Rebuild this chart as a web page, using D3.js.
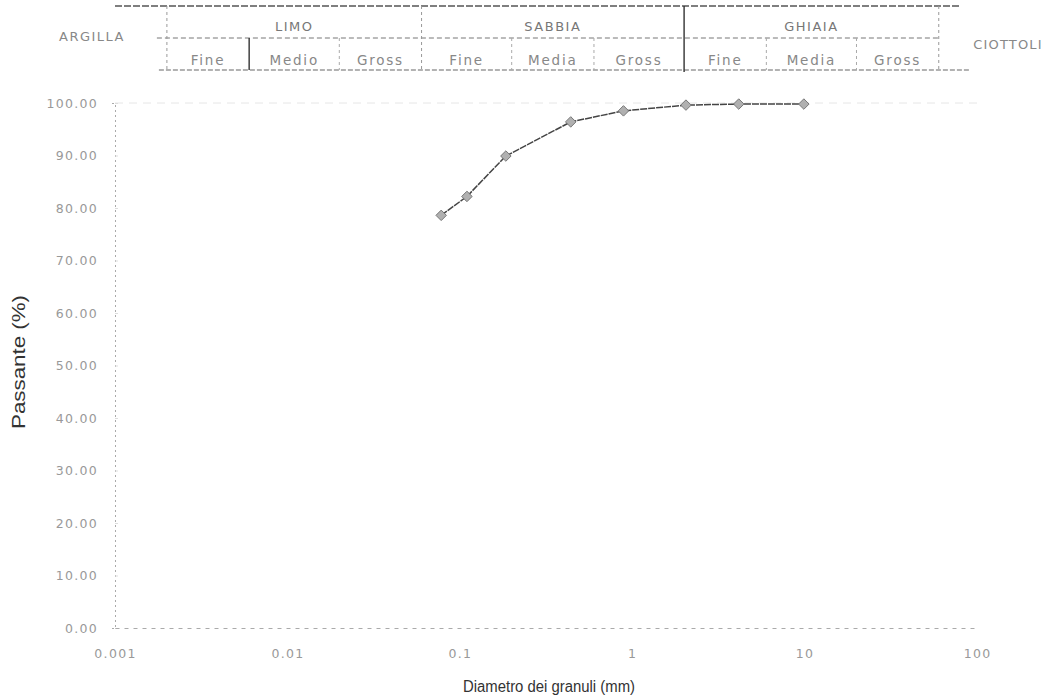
<!DOCTYPE html>
<html><head><meta charset="utf-8">
<script src="https://cdn.jsdelivr.net/npm/d3@7"></script>
<style>
html,body{margin:0;padding:0;background:#fff;}
svg{display:block;font-family:"Liberation Sans",Arial,sans-serif;}
</style></head>
<body>
<svg id="chart" width="1061" height="699"></svg>
<script>
// ---- data ----
const diameters = [0.078, 0.11, 0.185, 0.44, 0.89, 2.05, 4.15, 9.9];
const passing   = [78.6, 82.2, 89.9, 96.4, 98.5, 99.6, 99.8, 99.8];
const xTicks = [0.001, 0.01, 0.1, 1, 10, 100];
const xTickLabels = ["0.001", "0.01", "0.1", "1", "10", "100"];
const yTicks = [0, 10, 20, 30, 40, 50, 60, 70, 80, 90, 100];
const classNames = ["LIMO", "SABBIA", "GHIAIA"];
const classBounds = [[0.002, 0.06], [0.06, 2], [2, 60]];
const subNames = ["Fine", "Medio", "Gross", "Fine", "Media", "Gross", "Fine", "Media", "Gross"];
const subBounds = [0.002, 0.006, 0.02, 0.06, 0.2, 0.6, 2, 6, 20, 60];
const outerLeft = "ARGILLA";
const outerRight = "CIOTTOLI";
const xTitle = "Diametro dei granuli (mm)";
const yTitle = "Passante (%)";

// ---- layout ----
const svg = d3.select("#chart");
const L = 115, R = 977, T = 103, B = 628;
const x = d3.scaleLog().domain([0.001, 100]).range([L, R]);
const y = d3.scaleLinear().domain([0, 100]).range([B, T]);
const gmid = (a, b) => x(Math.sqrt(a * b));
const hdrFont = "DejaVu Sans, Verdana, sans-serif";

// header table
const hTop = 6, hMid = 38, hBot = 70;
const hdr = svg.append("g");
hdr.append("line").attr("x1", L).attr("x2", x(60) + 22).attr("y1", hTop).attr("y2", hTop)
  .attr("stroke", "#555").attr("stroke-width", 1.3).attr("stroke-dasharray", "7,2");
hdr.append("line").attr("x1", x(0.002) - 10).attr("x2", x(60)).attr("y1", hMid).attr("y2", hMid)
  .attr("stroke", "#777").attr("stroke-width", 1).attr("stroke-dasharray", "5,3");
hdr.append("line").attr("x1", x(0.002) - 8).attr("x2", x(60) + 32).attr("y1", hBot).attr("y2", hBot)
  .attr("stroke", "#666").attr("stroke-width", 1.1).attr("stroke-dasharray", "5,2");
const majorB = [0.002, 0.06, 2, 60];
hdr.selectAll("line.maj").data(majorB).join("line").attr("class", "maj")
  .attr("x1", d => x(d)).attr("x2", d => x(d)).attr("y1", hTop).attr("y2", hBot + 2)
  .attr("stroke", (d, i) => i === 2 ? "#333" : "#999")
  .attr("stroke-width", (d, i) => i === 2 ? 1.4 : 1)
  .attr("stroke-dasharray", (d, i) => i === 2 ? null : "3,3");
const minorB = [0.006, 0.02, 0.2, 0.6, 6, 20];
hdr.selectAll("line.min").data(minorB).join("line").attr("class", "min")
  .attr("x1", d => x(d)).attr("x2", d => x(d)).attr("y1", hMid).attr("y2", hBot)
  .attr("stroke", (d, i) => i === 0 ? "#333" : "#aaa")
  .attr("stroke-width", (d, i) => i === 0 ? 1.4 : 1)
  .attr("stroke-dasharray", (d, i) => i === 0 ? null : "3,3");
hdr.selectAll("text.cls").data(classNames).join("text").attr("class", "cls")
  .attr("x", (d, i) => gmid(classBounds[i][0], classBounds[i][1]))
  .attr("y", 31).attr("text-anchor", "middle").attr("font-family", hdrFont)
  .attr("font-size", 13).attr("fill", "#777").attr("letter-spacing", 1.5).text(d => d);
hdr.selectAll("text.sub").data(subNames).join("text").attr("class", "sub")
  .attr("x", (d, i) => gmid(subBounds[i], subBounds[i + 1]))
  .attr("y", 65).attr("text-anchor", "middle").attr("font-family", hdrFont)
  .attr("font-size", 13.5).attr("fill", "#888").attr("letter-spacing", 1.8).text(d => d);
hdr.append("text").attr("x", 92).attr("y", 41).attr("text-anchor", "middle").attr("font-family", hdrFont)
  .attr("font-size", 13).attr("fill", "#888").attr("letter-spacing", 1.5).text(outerLeft);
hdr.append("text").attr("x", 1008).attr("y", 49).attr("text-anchor", "middle").attr("font-family", hdrFont)
  .attr("font-size", 13).attr("fill", "#888").attr("letter-spacing", 1.2).text(outerRight);

// faint top gridline
svg.append("line").attr("x1", L).attr("x2", R).attr("y1", y(100)).attr("y2", y(100))
  .attr("stroke", "#e6e6e6").attr("stroke-dasharray", "8,6");

// y axis
const yAxis = d3.axisLeft(y).tickValues(yTicks).tickSize(3).tickPadding(14)
  .tickFormat(d => d.toFixed(2));
const gy = svg.append("g").attr("transform", `translate(${L},0)`).call(yAxis);
gy.select(".domain").attr("stroke", "#aaa").attr("stroke-dasharray", "2,3");
gy.selectAll(".tick line").attr("stroke", "#ddd").attr("x2", 3);
gy.selectAll("text").attr("font-size", 12.5).attr("fill", "#999")
  .attr("font-family", hdrFont).attr("letter-spacing", 1.3);

// x axis
const xAxis = d3.axisBottom(x).tickValues(xTicks).tickSize(0).tickPadding(21)
  .tickFormat((d, i) => xTickLabels[i]);
const gx = svg.append("g").attr("transform", `translate(0,${B})`).call(xAxis);
gx.select(".domain").attr("stroke", "#aaa").attr("stroke-dasharray", "4,5");
gx.selectAll("text").attr("font-size", 12.5).attr("fill", "#999")
  .attr("font-family", hdrFont).attr("letter-spacing", 1.3);

// titles
svg.append("text").attr("x", 549).attr("y", 692).attr("text-anchor", "middle")
  .attr("font-size", 16).attr("fill", "#333").attr("textLength", 172)
  .attr("lengthAdjust", "spacingAndGlyphs").text(xTitle);
svg.append("text").attr("transform", "translate(25,362) rotate(-90)").attr("text-anchor", "middle")
  .attr("font-size", 18).attr("fill", "#333").attr("textLength", 134)
  .attr("lengthAdjust", "spacingAndGlyphs").text(yTitle);

// data
const pts = diameters.map((d, i) => [d, passing[i]]);
svg.append("path").datum(pts)
  .attr("d", d3.line().x(d => x(d[0])).y(d => y(d[1])))
  .attr("fill", "none").attr("stroke", "#444").attr("stroke-width", 1.5)
  .attr("stroke-dasharray", "7,1");
svg.selectAll("path.pt").data(pts).join("path").attr("class", "pt")
  .attr("transform", d => `translate(${x(d[0])},${y(d[1])})`)
  .attr("d", d3.symbol().type(d3.symbolDiamond2).size(70))
  .attr("fill", "#b0b0b0").attr("stroke", "#777").attr("stroke-width", 1);
</script>
</body></html>
